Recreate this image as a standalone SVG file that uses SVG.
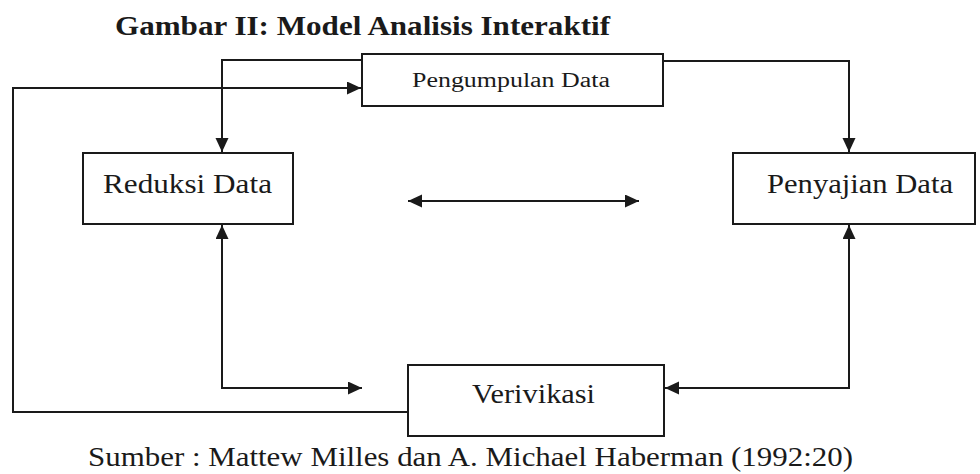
<svg xmlns="http://www.w3.org/2000/svg" width="980" height="474" viewBox="0 0 980 474">
<style>
.box{fill:#fff;stroke:#1a1a1a;stroke-width:2}
.ln{fill:none;stroke:#1a1a1a;stroke-width:2}
.lbl{font-family:"Liberation Serif","Times New Roman",serif;fill:#1a1a1a}
</style>
<defs>
<marker id="ah" markerUnits="userSpaceOnUse" markerWidth="15" markerHeight="14" refX="14" refY="6.5" orient="auto-start-reverse">
<path d="M0,0 L14,6.5 L0,13 Z" fill="#1a1a1a"/>
</marker>
</defs>
<rect width="980" height="474" fill="#fff"/>
<text class="lbl" x="115" y="35" font-size="28" font-weight="bold" textLength="495" lengthAdjust="spacingAndGlyphs">Gambar II: Model Analisis Interaktif</text>
<g id="connectors">
<path class="ln" d="M362,60 H222 V152" marker-end="url(#ah)"/>
<path class="ln" d="M663,61 H849 V152" marker-end="url(#ah)"/>
<path class="ln" d="M408,412 H13 V88 H361" marker-end="url(#ah)"/>
<path class="ln" d="M362,388 H222 V225" marker-start="url(#ah)" marker-end="url(#ah)"/>
<path class="ln" d="M665,388 H849 V225" marker-start="url(#ah)" marker-end="url(#ah)"/>
<path class="ln" d="M408,201 H639" marker-start="url(#ah)" marker-end="url(#ah)"/>
</g>
<g id="pengumpulan">
<rect class="box" x="362" y="54" width="301" height="52"/>
<text class="lbl" x="412" y="87" font-size="20" textLength="198" lengthAdjust="spacingAndGlyphs">Pengumpulan Data</text>
</g>
<g id="reduksi">
<rect class="box" x="83" y="153" width="210" height="71"/>
<text class="lbl" x="103" y="193" font-size="28" textLength="169" lengthAdjust="spacingAndGlyphs">Reduksi Data</text>
</g>
<g id="penyajian">
<rect class="box" x="733" y="153" width="242" height="71"/>
<text class="lbl" x="767" y="193" font-size="28" textLength="186" lengthAdjust="spacingAndGlyphs">Penyajian Data</text>
</g>
<g id="verivikasi">
<rect class="box" x="408" y="365" width="256" height="71"/>
<text class="lbl" x="472" y="403" font-size="28" textLength="123" lengthAdjust="spacingAndGlyphs">Verivikasi</text>
</g>
<text class="lbl" x="88" y="466" font-size="27" textLength="765" lengthAdjust="spacingAndGlyphs">Sumber : Mattew Milles dan A. Michael Haberman (1992:20)</text>
</svg>
